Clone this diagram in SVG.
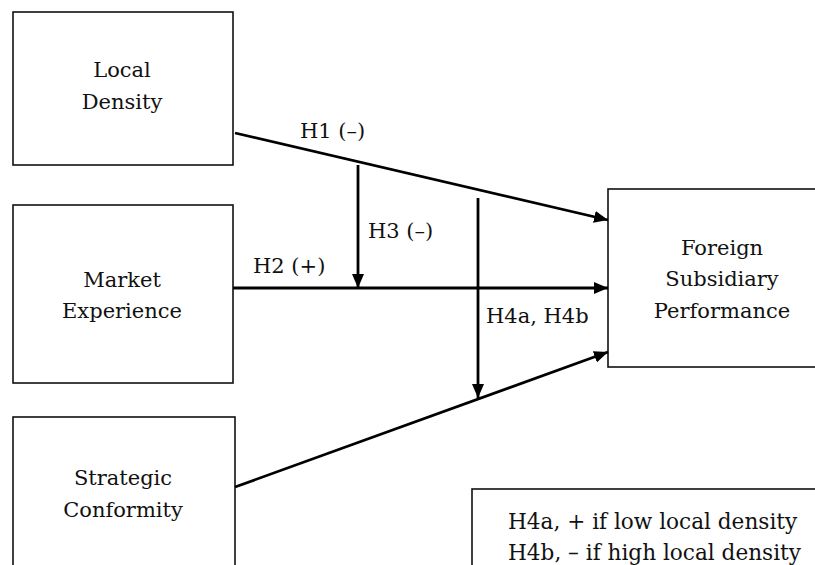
<svg xmlns="http://www.w3.org/2000/svg" width="815" height="565" viewBox="0 0 815 565">
<style>
  .box { fill: #fff; stroke: #111; stroke-width: 1.6; }
  .t { font-family: "DejaVu Serif", "Liberation Serif", serif; font-size: 21px; fill: #111; }
  .lg { font-size: 21.6px; }
  .c { text-anchor: middle; }
  .conn { stroke: #000; stroke-width: 2.8; fill: none; marker-end: url(#ah); }
</style>
<defs>
  <marker id="ah" markerUnits="userSpaceOnUse" markerWidth="16" markerHeight="14" refX="14" refY="6" orient="auto">
    <path d="M0,0 L14,6 L0,12 Z" fill="#000"/>
  </marker>
</defs>
<rect width="815" height="565" fill="#fff"/>
<g id="local-density">
  <rect class="box" x="13" y="12" width="220" height="153"/>
  <text class="t c" x="122" y="77">Local</text>
  <text class="t c" x="122" y="109">Density</text>
</g>
<g id="market-experience">
  <rect class="box" x="13" y="205" width="220" height="178"/>
  <text class="t c" x="122" y="287">Market</text>
  <text class="t c" x="122" y="318">Experience</text>
</g>
<g id="strategic-conformity">
  <rect class="box" x="13" y="417" width="222" height="200"/>
  <text class="t c" x="123" y="485">Strategic</text>
  <text class="t c" x="123" y="517">Conformity</text>
</g>
<g id="foreign-subsidiary-performance">
  <rect class="box" x="608" y="189" width="260" height="178"/>
  <text class="t c" x="722" y="255">Foreign</text>
  <text class="t c" x="722" y="286">Subsidiary</text>
  <text class="t c" x="722" y="318">Performance</text>
</g>
<g id="legend">
  <rect class="box" x="472" y="489" width="400" height="120"/>
  <text class="t lg" x="508" y="529">H4a, + if low local density</text>
  <text class="t lg" x="508" y="560">H4b, – if high local density</text>
</g>
<g id="connectors">
  <line class="conn" x1="235" y1="133" x2="608" y2="220"/>
  <line class="conn" x1="233" y1="288" x2="608" y2="288"/>
  <line class="conn" x1="235" y1="487" x2="608" y2="352"/>
  <line class="conn" x1="358" y1="165" x2="358" y2="288"/>
  <line class="conn" x1="478" y1="198" x2="478" y2="398"/>
  <text class="t" x="300" y="138">H1 (–)</text>
  <text class="t" x="368" y="238">H3 (–)</text>
  <text class="t" x="253" y="273">H2 (+)</text>
  <text class="t" x="486" y="323">H4a, H4b</text>
</g>
</svg>
